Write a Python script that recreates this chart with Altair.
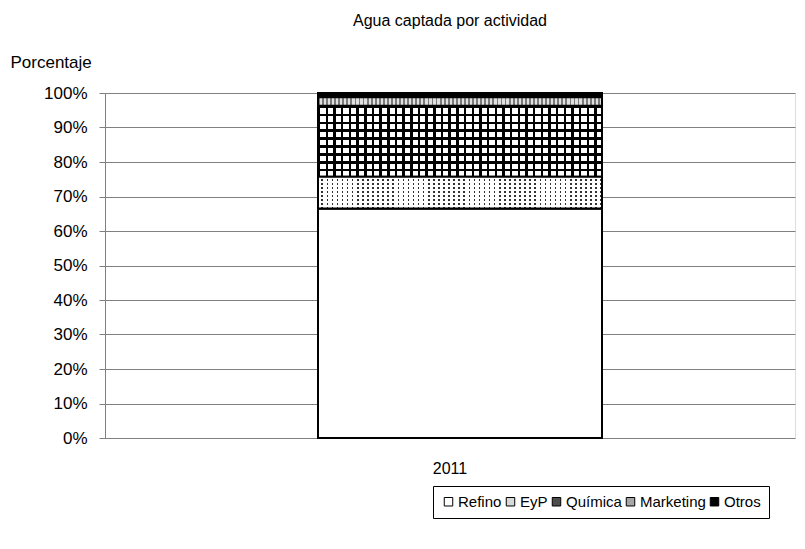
import altair as alt
import pandas as pd

# ---- data ----
years = ["2011", "2011", "2011", "2011", "2011"]
categories = ["Refino", "EyP", "Química", "Marketing", "Otros"]
values = [66.5, 9.2, 20.6, 2.5, 1.2]
stack_order = [0, 1, 2, 3, 4]
y_ticks = [0, 10, 20, 30, 40, 50, 60, 70, 80, 90, 100]

# ---- styles ----
legend_fills = ["#ffffff", "#d9d9d9", "#4d4d4d", "#a6a6a6", "#000000"]
FONT = "Liberation Sans"
W, H = 690, 345
BAR = 284
SHIFT = 10


def stripes(n, frac, ink, gap, horizontal):
    stops = []
    for i in range(n):
        a = i / n
        b = (i + frac) / n
        c = (i + 1) / n
        stops += [
            alt.GradientStop(offset=a, color=ink),
            alt.GradientStop(offset=b, color=ink),
            alt.GradientStop(offset=b, color=gap),
            alt.GradientStop(offset=c, color=gap),
        ]
    if horizontal:
        return alt.Gradient(gradient="linear", stops=stops, x1=0, x2=0, y1=0, y2=1)
    return alt.Gradient(gradient="linear", stops=stops, x1=0, x2=1, y1=0, y2=0)


df = pd.DataFrame({"year": years, "cat": categories, "val": values, "ord": stack_order})

base = alt.Chart(df).transform_stack(
    stack="val", groupby=["year"], as_=["y0", "y1"],
    sort=[alt.SortField("ord", order="ascending")],
)

x_enc = alt.X(
    "year:N", title=None,
    axis=alt.Axis(labelAngle=0, labelFontSize=16, labelFont=FONT, labelColor="#000000",
                  labelPadding=22, ticks=False, domain=False),
)
y_enc = alt.Y(
    "y0:Q",
    scale=alt.Scale(domain=[0, 100], nice=False),
    axis=alt.Axis(
        values=y_ticks, labelExpr="datum.value + '%'", labelFontSize=17, labelFont=FONT,
        labelColor="#000000", labelPadding=12, labelOverlap=False, tickSize=6,
        tickColor="#808080", domainColor="#808080", gridColor="#808080", grid=True,
        gridWidth=1,
        title="Porcentaje", titleAngle=0, titleAlign="left", titleBaseline="middle",
        titleX=-95, titleY=-31, titleFontSize=17, titleFont=FONT, titleFontWeight="normal",
        titleColor="#000000",
    ),
)
y2_enc = alt.Y2("y1:Q")

bars = base.mark_bar(width=BAR, xOffset=SHIFT, stroke="#000000", strokeWidth=2).encode(
    x=x_enc,
    y=y_enc,
    y2=y2_enc,
    fill=alt.Fill(
        "cat:N",
        scale=alt.Scale(domain=categories, range=legend_fills),
        legend=alt.Legend(
            title=None, orient="none", direction="horizontal", legendX=328, legendY=393,
            symbolType="square", symbolSize=72, symbolStrokeColor="#000000",
            symbolStrokeWidth=1, labelFontSize=15, labelFont=FONT, labelColor="#000000",
            columnPadding=1, symbolOffset=0, labelOffset=2,
            strokeColor="#000000", padding=8, fillColor="#ffffff",
        ),
    ),
    order=alt.Order("ord:Q"),
)


def overlay(cat, fill, stroke):
    m = base.transform_filter(alt.datum.cat == cat)
    if stroke:
        mk = m.mark_bar(width=BAR, xOffset=SHIFT, fill=fill, stroke="#000000", strokeWidth=2)
    else:
        mk = m.mark_bar(width=BAR, xOffset=SHIFT, fill=fill, strokeWidth=0)
    return mk.encode(x=x_enc, y=y_enc, y2=y2_enc)


# Química: grid pattern (white cells, black lines)
quim_h = overlay("Química", stripes(9, 0.32, "#000000", "#ffffff", True), False)
quim_v = overlay("Química", stripes(37, 0.32, "#000000", "rgba(0,0,0,0)", False), True)

# EyP: dotted pattern (white covers with small holes over dark base)
eyp_base = overlay("EyP", "#333333", False)
eyp_h = overlay("EyP", stripes(8, 0.6, "#ffffff", "rgba(255,255,255,0)", True), False)
eyp_v = overlay("EyP", stripes(56, 0.68, "#ffffff", "rgba(255,255,255,0)", False), True)

# Marketing: light hatch
mkt = overlay("Marketing", stripes(70, 0.45, "#7a7a7a", "#e0e0e0", False), True)

chart = alt.layer(bars, quim_h, quim_v, eyp_base, eyp_h, eyp_v, mkt).properties(
    width=W, height=H,
    title=alt.TitleParams("Agua captada por actividad", fontSize=16, font=FONT,
                          fontWeight="normal", color="#000000", anchor="middle", offset=24),
    autosize=alt.AutoSizeParams(type="none"),
    padding={"left": 97, "top": 85, "right": 2, "bottom": 100},
).configure_view(stroke=None).configure(background="#ffffff")

chart.save("out.html", embed_options={"renderer": "svg", "actions": False})
